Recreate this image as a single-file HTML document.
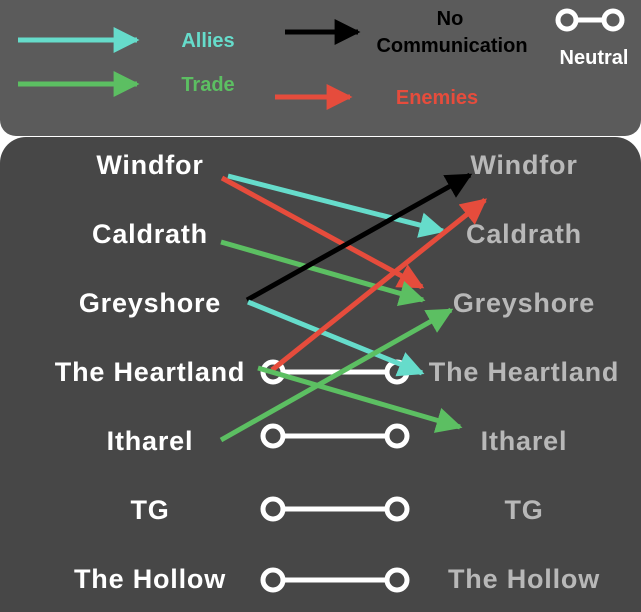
<!DOCTYPE html>
<html><head><style>
html,body{margin:0;padding:0;background:#fff;width:641px;height:612px;overflow:hidden}
.top{position:absolute;left:0;top:0;width:641px;height:136px;background:#5b5b5b;border-radius:0 0 16px 16px}
.bot{position:absolute;left:0;top:137px;width:641px;height:475px;background:#474747;border-radius:26px 26px 0 0}
svg{position:absolute;left:0;top:0}
text{font-family:"Liberation Sans",sans-serif;font-weight:bold}
.n text{letter-spacing:0.8px}
</style></head><body>
<div class="top"></div><div class="bot"></div>
<svg width="641" height="612" viewBox="0 0 641 612">
<defs>
<marker id="c" viewBox="0 0 10 10" refX="9" refY="5" markerWidth="5.2" markerHeight="5.2" orient="auto" markerUnits="strokeWidth"><path d="M0,0L10,5L0,10z" fill="#66dccb"/></marker>
<marker id="g" viewBox="0 0 10 10" refX="9" refY="5" markerWidth="5.2" markerHeight="5.2" orient="auto" markerUnits="strokeWidth"><path d="M0,0L10,5L0,10z" fill="#5cbf62"/></marker>
<marker id="r" viewBox="0 0 10 10" refX="9" refY="5" markerWidth="5.2" markerHeight="5.2" orient="auto" markerUnits="strokeWidth"><path d="M0,0L10,5L0,10z" fill="#e64c3c"/></marker>
<marker id="k" viewBox="0 0 10 10" refX="9" refY="5" markerWidth="5.2" markerHeight="5.2" orient="auto" markerUnits="strokeWidth"><path d="M0,0L10,5L0,10z" fill="#000"/></marker>
</defs>
<g stroke-width="5" fill="none">
<line x1="18" y1="40" x2="137" y2="40" stroke="#66dccb" marker-end="url(#c)"/>
<line x1="18" y1="84" x2="137" y2="84" stroke="#5cbf62" marker-end="url(#g)"/>
<line x1="285" y1="32" x2="358" y2="32" stroke="#000" marker-end="url(#k)"/>
<line x1="275" y1="97" x2="350" y2="97" stroke="#e64c3c" marker-end="url(#r)"/>
</g>
<g stroke="#fff" stroke-width="5" fill="none">
<line x1="567" y1="20" x2="613" y2="20"/><circle cx="567" cy="20" r="9" fill="#5b5b5b"/><circle cx="613" cy="20" r="9" fill="#5b5b5b"/>
<line x1="273" y1="372" x2="397" y2="372"/><circle cx="273" cy="372" r="10" fill="#474747"/><circle cx="397" cy="372" r="10" fill="#474747"/>
<line x1="273" y1="436" x2="397" y2="436"/><circle cx="273" cy="436" r="10" fill="#474747"/><circle cx="397" cy="436" r="10" fill="#474747"/>
<line x1="273" y1="509" x2="397" y2="509"/><circle cx="273" cy="509" r="10" fill="#474747"/><circle cx="397" cy="509" r="10" fill="#474747"/>
<line x1="273" y1="580" x2="397" y2="580"/><circle cx="273" cy="580" r="10" fill="#474747"/><circle cx="397" cy="580" r="10" fill="#474747"/>
</g>
<g font-size="20" text-anchor="middle" font-weight="normal">
<text x="208" y="47" fill="#66dccb">Allies</text>
<text x="208" y="91" fill="#5cbf62">Trade</text>
<text x="450" y="25" fill="#000">No</text>
<text x="452" y="52" fill="#000">Communication</text>
<text x="594" y="64" fill="#fff">Neutral</text>
<text x="437" y="104" fill="#e64c3c">Enemies</text>
</g>
<g class="n" font-size="27" text-anchor="middle" fill="#fff">
<text x="150" y="174">Windfor</text>
<text x="150" y="243">Caldrath</text>
<text x="150" y="312">Greyshore</text>
<text x="150" y="381">The Heartland</text>
<text x="150" y="450">Itharel</text>
<text x="150" y="519">TG</text>
<text x="150" y="588">The Hollow</text>
</g>
<g class="n" font-size="27" text-anchor="middle" fill="#b8b8b8">
<text x="524" y="174">Windfor</text>
<text x="524" y="243">Caldrath</text>
<text x="524" y="312">Greyshore</text>
<text x="524" y="381">The Heartland</text>
<text x="524" y="450">Itharel</text>
<text x="524" y="519">TG</text>
<text x="524" y="588">The Hollow</text>
</g>
<g stroke-width="5" fill="none">
<line x1="228" y1="176" x2="443" y2="231" stroke="#66dccb" marker-end="url(#c)"/>
<line x1="222" y1="178" x2="422" y2="287" stroke="#e64c3c" marker-end="url(#r)"/>
<line x1="221" y1="242" x2="423" y2="300" stroke="#5cbf62" marker-end="url(#g)"/>
<line x1="247" y1="300" x2="470" y2="175" stroke="#000" marker-end="url(#k)"/>
<line x1="248" y1="302" x2="422" y2="373" stroke="#66dccb" marker-end="url(#c)"/>
<line x1="272" y1="370" x2="485" y2="200" stroke="#e64c3c" marker-end="url(#r)"/>
<line x1="258" y1="368" x2="460" y2="427" stroke="#5cbf62" marker-end="url(#g)"/>
<line x1="221" y1="440" x2="451" y2="310" stroke="#5cbf62" marker-end="url(#g)"/>
</g>
</svg>
</body></html>
